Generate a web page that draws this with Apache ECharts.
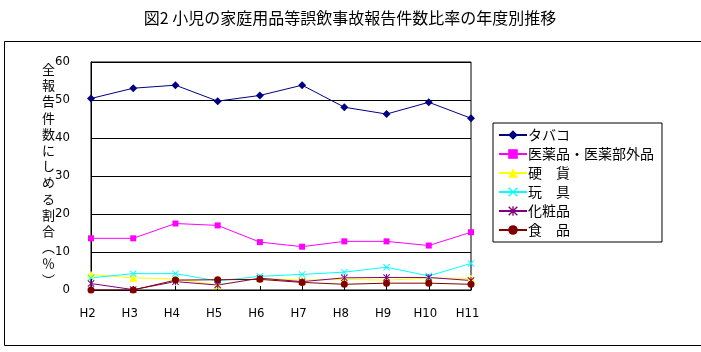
<!DOCTYPE html>
<html><head><meta charset="utf-8">
<script src="https://cdn.jsdelivr.net/npm/echarts@6/dist/echarts.min.js"></script>
<style>html,body{margin:0;padding:0;background:#fff}#c{width:701px;height:352px}</style>
</head><body><div id="c"></div>
<script>
const categories = ['H2','H3','H4','H5','H6','H7','H8','H9','H10','H11'];
const tobacco   = [50.4, 53.1, 53.9, 49.7, 51.2, 53.9, 48.1, 46.3, 49.4, 45.2];
const medicine  = [13.6, 13.6, 17.5, 17.0, 12.6, 11.4, 12.8, 12.8, 11.7, 15.2];
const coin      = [4.1, 3.2, 2.9, 1.3, 3.1, 2.6, 2.8, 2.6, 3.1, 3.1];
const toy       = [3.2, 4.3, 4.3, 2.4, 3.6, 4.1, 4.7, 6.0, 3.7, 7.0];
const cosmetics = [1.7, 0.1, 2.2, 1.3, 3.1, 2.2, 3.2, 3.3, 3.3, 2.5];
const food      = [0.0, 0.0, 2.6, 2.7, 2.8, 2.0, 1.5, 1.8, 1.8, 1.5];
const seriesNames = ['タバコ','医薬品・医薬部外品','硬　貨','玩　具','化粧品','食　品'];
const yTicks = [0, 10, 20, 30, 40, 50, 60];
const titleText = '図2 小児の家庭用品等誤飲事故報告件数比率の年度別推移';
const yAxisTitleChars = ['全','報','告','件','数','に','し','め','る','割','合','︵','％','︶'];

const FONT = '"Noto Sans CJK JP", sans-serif';
const NUMFONT = '"Liberation Sans Narrow", "DejaVu Sans Condensed", sans-serif';
const xSym = 'path://M0,1L1,0L5,4L9,0L10,1L6,5L10,9L9,10L5,6L1,10L0,9L4,5Z';
const starSym = 'path://M0,1L1,0L5,4L9,0L10,1L6,5L10,9L9,10L5,6L1,10L0,9L4,5ZM4.3,0L5.7,0L5.7,10L4.3,10Z';

function mk(name, data, color, symbol, size) {
  return {name, type:'line', data, symbol, symbolSize:size, showSymbol:true,
    lineStyle:{color, width:1}, itemStyle:{color}, animation:false};
}

const chart = echarts.init(document.getElementById('c'));
chart.setOption({
  animation:false,
  title:{text:titleText, left:345, top:5, textAlign:'center',
    textStyle:{fontFamily:FONT, fontSize:16, fontWeight:'normal', color:'#000'}},
  grid:{left:91, top:62, right:230, bottom:62, show:true, borderColor:'#000', borderWidth:1},
  legend:{orient:'vertical', left:493, top:123,
    data:seriesNames, itemWidth:28, itemHeight:12, itemGap:5,
    padding:[5,8,5,5], borderColor:'#000', borderWidth:1, backgroundColor:'#fff',
    textStyle:{fontFamily:FONT, fontSize:14, lineHeight:14, color:'#000', padding:[0,0,0,-4]}},
  xAxis:{type:'category', data:categories, boundaryGap:false,
    axisLine:{lineStyle:{color:'#000'}},
    axisTick:{inside:true, length:4, lineStyle:{color:'#000'}},
    axisLabel:{color:'#000', fontFamily:NUMFONT, fontSize:13, margin:17, padding:[0,7,0,0]}},
  yAxis:{type:'value', min:yTicks[0], max:yTicks[yTicks.length-1], interval:10,
    axisLine:{show:true, lineStyle:{color:'#000'}}, axisTick:{show:false},
    splitLine:{lineStyle:{color:'#000'}},
    axisLabel:{color:'#000', fontFamily:NUMFONT, fontSize:13, margin:21, padding:[6,0,0,0]}},
  graphic:[
    {type:'rect', left:2, top:39, shape:{width:697, height:304}, style:{fill:null, stroke:'#000', lineWidth:1}, z:-1},
    {type:'text', left:42, top:61, style:{text:yAxisTitleChars.join('\n'), fontFamily:FONT, fontSize:13, lineHeight:16.2, fill:'#000'}}
  ],
  series:[
    mk(seriesNames[0], tobacco, '#000080', 'diamond', 8),
    mk(seriesNames[1], medicine, '#FF00FF', 'rect', 6),
    mk(seriesNames[2], coin, '#FFFF00', 'triangle', 8),
    mk(seriesNames[3], toy, '#00FFFF', xSym, 7),
    mk(seriesNames[4], cosmetics, '#800080', starSym, 7),
    mk(seriesNames[5], food, '#800000', 'circle', 7)
  ]
});
</script></body></html>
